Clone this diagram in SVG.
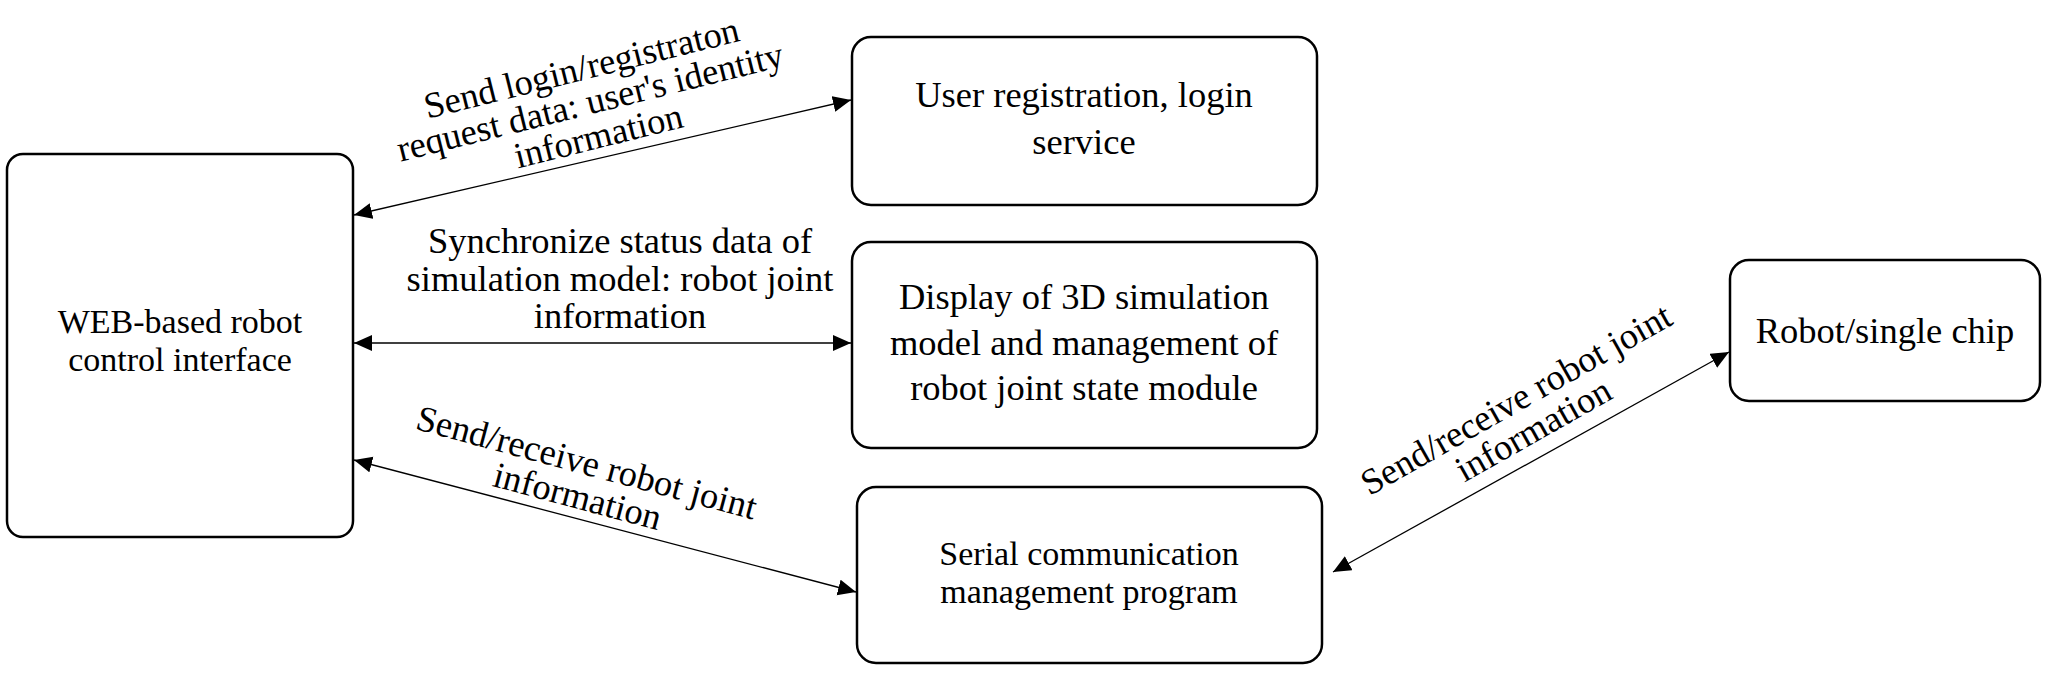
<svg xmlns="http://www.w3.org/2000/svg" width="2052" height="678" viewBox="0 0 2052 678">
<style>
.box{fill:#fff;stroke:#000;stroke-width:2.5}
.t{font-family:"Liberation Serif","Times New Roman",serif;font-size:36.5px;fill:#000;text-anchor:middle}
.s{font-size:34px}
.c{stroke:#000;stroke-width:1.3;fill:none}
</style>
<defs>
<marker id="ah" markerUnits="userSpaceOnUse" markerWidth="20" markerHeight="18" refX="18" refY="8" orient="auto-start-reverse">
<path d="M0,0 L18,8 L0,16 Z" fill="#000"/>
</marker>
</defs>
<rect width="2052" height="678" fill="#fff"/>
<g id="web">
<rect class="box" x="7" y="154" width="346" height="383" rx="16"/>
<text class="t s" x="180" y="333">WEB-based robot</text>
<text class="t s" x="180" y="371">control interface</text>
</g>
<g id="user">
<rect class="box" x="852" y="37" width="465" height="168" rx="19"/>
<text class="t" x="1084" y="107">User registration, login</text>
<text class="t" x="1084" y="154">service</text>
</g>
<g id="display">
<rect class="box" x="852" y="242" width="465" height="206" rx="19"/>
<text class="t" x="1084" y="309">Display of 3D simulation</text>
<text class="t" x="1084" y="355">model and management of</text>
<text class="t" x="1084" y="400">robot joint state module</text>
</g>
<g id="serial">
<rect class="box" x="857" y="487" width="465" height="176" rx="19"/>
<text class="t s" x="1089" y="565">Serial communication</text>
<text class="t s" x="1089" y="603">management program</text>
</g>
<g id="robot">
<rect class="box" x="1730" y="260" width="310" height="141" rx="19"/>
<text class="t" x="1885" y="343">Robot/single chip</text>
</g>
<g id="connectors">
<line class="c" x1="354" y1="215" x2="851" y2="100" marker-start="url(#ah)" marker-end="url(#ah)"/>
<line class="c" x1="354" y1="343" x2="851" y2="343" marker-start="url(#ah)" marker-end="url(#ah)"/>
<line class="c" x1="354" y1="460" x2="856" y2="592" marker-start="url(#ah)" marker-end="url(#ah)"/>
<line class="c" x1="1333" y1="572" x2="1729" y2="352" marker-start="url(#ah)" marker-end="url(#ah)"/>
<g transform="translate(590,102) rotate(-14)">
<text class="t" x="0" y="-23">Send login/registraton</text>
<text class="t" x="0" y="12">request data: user's identity</text>
<text class="t" x="0" y="47">information</text>
</g>
<g>
<text class="t" x="620" y="253">Synchronize status data of</text>
<text class="t" x="620" y="291">simulation model: robot joint</text>
<text class="t" x="620" y="328">information</text>
</g>
<g transform="translate(582,480) rotate(15)">
<text class="t" x="0" y="-6">Send/receive robot joint</text>
<text class="t" x="0" y="29">information</text>
</g>
<g transform="translate(1525,415) rotate(-29.5)">
<text class="t" x="0" y="-6">Send/receive robot joint</text>
<text class="t" x="0" y="29">information</text>
</g>
</g>
</svg>
